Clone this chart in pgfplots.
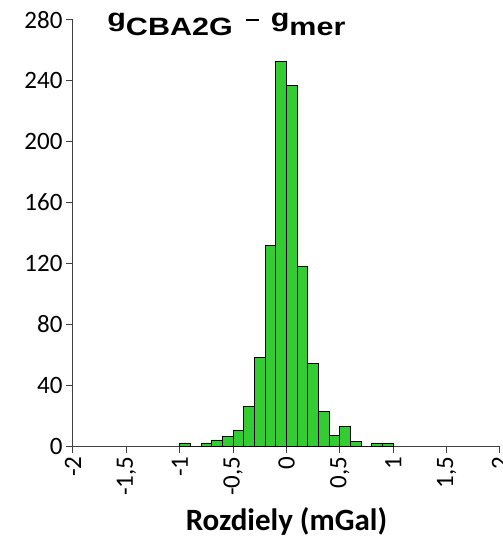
\documentclass[border=0pt]{standalone}
\usepackage{pgfplots}
\pgfplotsset{compat=1.18}
\usepackage{fontspec}
\setmainfont{Carlito}
\newfontfamily\arialfont{Liberation Sans}
\definecolor{bargreen}{RGB}{51,204,51}
\definecolor{axisgray}{RGB}{64,64,64}

\begin{document}
\begin{tikzpicture}
  \path[use as bounding box] (-73pt,-95pt) rectangle (430pt,446pt);
  \clip (-73pt,-95pt) rectangle (430pt,446pt);
  \begin{axis}[
      scale only axis,
      width=427pt,
      height=426pt,
      xmin=-2, xmax=2,
      ymin=0, ymax=280,
      axis lines*=left,
      axis line style={axisgray, line width=1pt},
      tick style={axisgray, line width=1pt},
      tick align=outside,
      major tick length=7pt,
      xtick={-2,-1.5,...,2},
      xticklabels={-2,{-1,5},-1,{-0,5},0,{0,5},1,{1,5},2},
      ytick={0,40,...,280},
      x tick label style={rotate=90, anchor=east, font=\fontsize{25}{28}\selectfont},
      y tick label style={font=\fontsize{25}{28}\selectfont},
      /pgf/number format/assume math mode=true,
      xlabel={\textbf{Rozdiely (mGal)}},
      xlabel style={font=\fontsize{31}{34}\selectfont, yshift=-5pt},
      clip=false,
    ]
    % histogram, bins of 0.1 mGal
    \addplot[ybar interval, fill=bargreen, draw=black, line width=0.8pt]
      coordinates {
        (-1.0,2) (-0.9,0) (-0.8,2) (-0.7,4) (-0.6,6) (-0.5,10)
        (-0.4,26) (-0.3,58) (-0.2,132) (-0.1,253) (0.0,237) (0.1,118)
        (0.2,54) (0.3,23) (0.4,7) (0.5,13) (0.6,3) (0.7,0)
        (0.8,2) (0.9,2) (1.0,0)
      };
    \node[anchor=base west, inner sep=0pt, font=\arialfont\bfseries\fontsize{25}{28}\selectfont]
      at (axis cs:-1.68,276) {\scalebox{1.22}[1]{g\raisebox{-9pt}{CBA2G}\hspace{11pt}\raisebox{5.5pt}{\rule{10.7pt}{1.4pt}}\hspace{9.5pt}g\raisebox{-9pt}{mer}}};
  \end{axis}
\end{tikzpicture}
\end{document}
